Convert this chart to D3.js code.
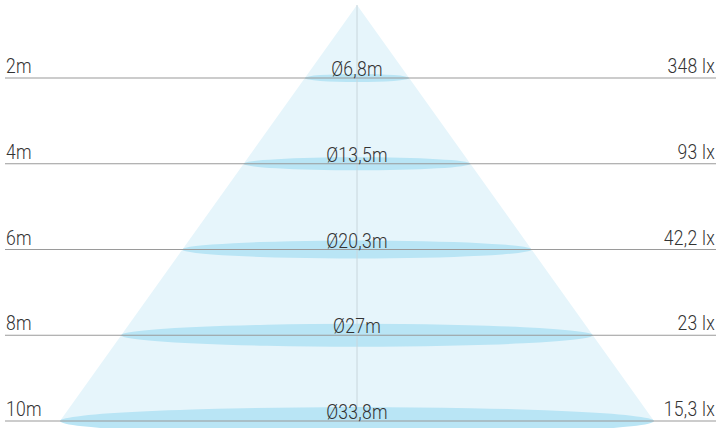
<!DOCTYPE html>
<html><head><meta charset="utf-8">
<script src="https://cdn.jsdelivr.net/npm/d3@7"></script>
<style>
html,body{margin:0;padding:0;background:#fff;}
text{font-family:Roboto, "DejaVu Sans", sans-serif;font-weight:300;font-size:19.5px;fill:#333;letter-spacing:0.3px;}
</style></head>
<body><svg id="c" width="718" height="428"></svg>
<script>
const distances = ["2m","4m","6m","8m","10m"];
const diameters = ["Ø6,8m","Ø13,5m","Ø20,3m","Ø27m","Ø33,8m"];
const lux = ["348 lx","93 lx","42,2 lx","23 lx","15,3 lx"];
const distValues = [2,4,6,8,10];

const W=718,H=428, cx=357, apexY=5;
const svg=d3.select("#c");
const y=d3.scaleLinear().domain([2,10]).range([78,421]);
const half=d3.scaleLinear().domain([apexY,421]).range([0,297]);

svg.append("path")
 .attr("d",`M${cx},${apexY}L${cx+half(421)},${y(10)}L${cx-half(421)},${y(10)}Z`)
 .attr("fill","#e6f5fb");

svg.selectAll("ellipse").data(distValues).join("ellipse")
 .attr("cx",cx).attr("cy",d=>y(d))
 .attr("rx",d=>half(y(d)))
 .attr("ry",d=>2+half(y(d))*0.04)
 .attr("fill","#b9e5f5");

svg.append("line").attr("x1",cx).attr("x2",cx).attr("y1",apexY).attr("y2",y(10))
 .attr("stroke","#c8d6dc").attr("stroke-width",1);

svg.selectAll("line.h").data(distValues).join("line").attr("class","h")
 .attr("x1",5).attr("x2",716).attr("y1",d=>y(d)).attr("y2",d=>y(d))
 .attr("stroke","#9a9a9a").attr("stroke-width",1.2);

const sx=0.9;
function lab(cls, xPos, dy, anchor, arr){
  svg.selectAll("g."+cls).data(distValues).join("g").attr("class",cls)
   .attr("transform",d=>`translate(${xPos},${y(d)-dy}) scale(${sx},1)`)
   .append("text").attr("text-anchor",anchor).text((d,i)=>arr[i]);
}
lab("l",6,5,"start",distances);
lab("c",cx,2,"middle",diameters);
lab("r",715,5,"end",lux);
</script></body></html>
